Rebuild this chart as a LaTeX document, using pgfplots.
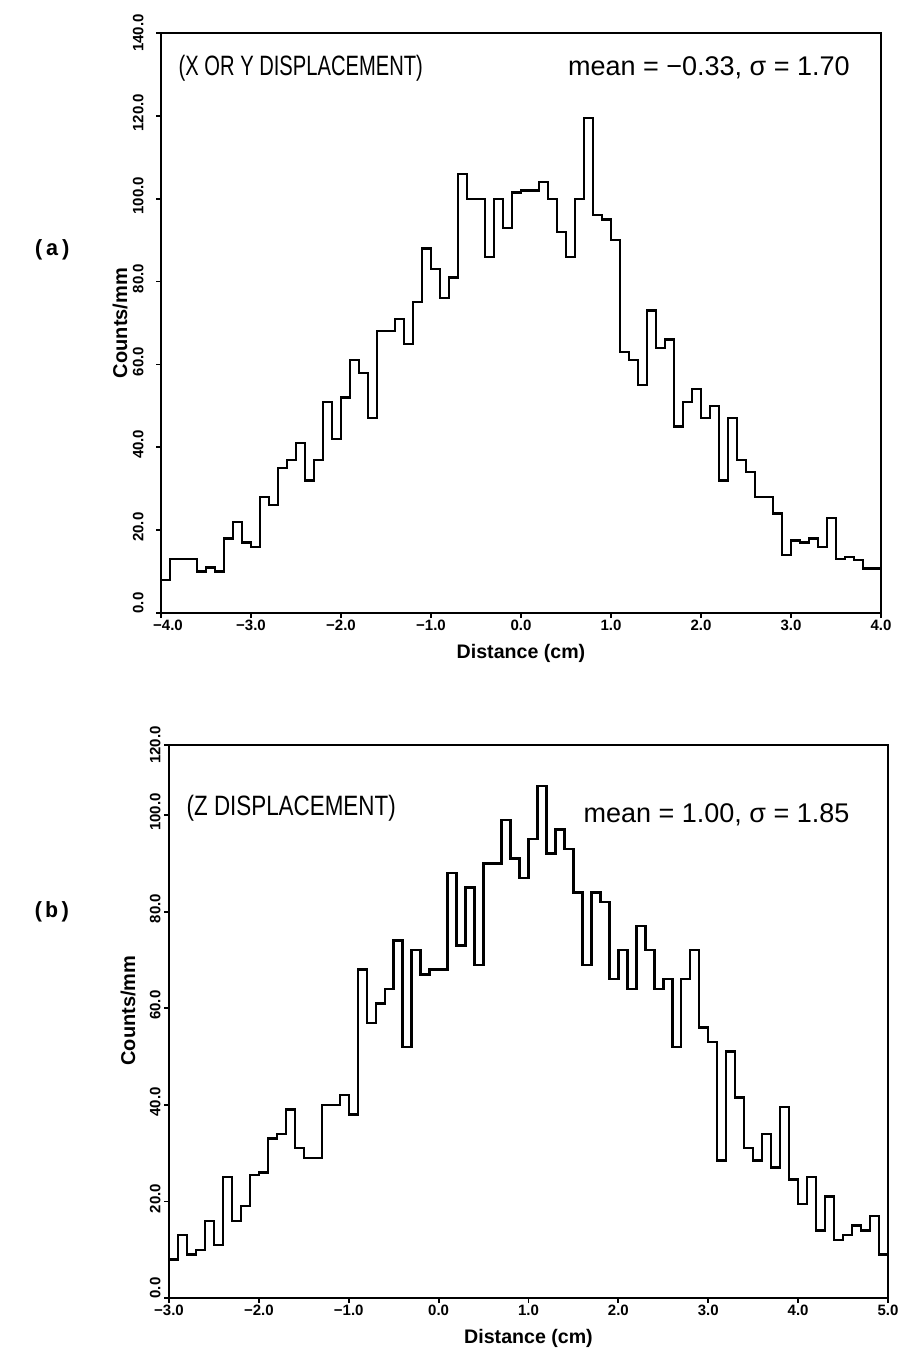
\documentclass[border=0pt]{standalone}
\usepackage{fontspec}
\setmainfont{Liberation Sans}
\newfontfamily\monofont{Liberation Mono}
\usepackage{pgfplots}
\usepackage{pgfplotstable}
\pgfplotsset{compat=1.18}

\pgfplotstableread{
x y
-4.0 8
-3.9 13
-3.8 13
-3.7 13
-3.6 10
-3.5 11
-3.4 10
-3.3 18
-3.2 22
-3.1 17
-3.0 16
-2.9 28
-2.8 26
-2.7 35
-2.6 37
-2.5 41
-2.4 32
-2.3 37
-2.2 51
-2.1 42
-2.0 52
-1.9 61
-1.8 58
-1.7 47
-1.6 68
-1.5 68
-1.4 71
-1.3 65
-1.2 75
-1.1 88
-1.0 83
-0.9 76
-0.8 81
-0.7 106
-0.6 100
-0.5 100
-0.4 86
-0.3 100
-0.2 93
-0.1 101.5
0.0 102
0.1 102
0.2 104
0.3 100
0.4 92
0.5 86
0.6 100
0.7 119.5
0.8 96
0.9 95
1.0 90
1.1 63
1.2 61
1.3 55
1.4 73
1.5 64
1.6 66
1.7 45
1.8 51
1.9 54
2.0 47
2.1 50
2.2 32
2.3 47
2.4 37
2.5 34
2.6 28
2.7 28
2.8 24
2.9 14
3.0 17.5
3.1 17
3.2 18
3.3 16
3.4 23
3.5 13
3.6 13.5
3.7 12.8
3.8 10.7
3.9 10.7
4.0 10.7
}\dataA

\pgfplotstableread{
x y
-3.0 8
-2.9 13
-2.8 9
-2.7 10
-2.6 16
-2.5 11
-2.4 25
-2.3 16
-2.2 19
-2.1 25.5
-2.0 26
-1.9 33
-1.8 34
-1.7 39
-1.6 31
-1.5 29
-1.4 29
-1.3 40
-1.2 40
-1.1 42
-1.0 38
-0.9 68
-0.8 57
-0.7 61
-0.6 64
-0.5 74
-0.4 52
-0.3 72
-0.2 67
-0.1 68
0.0 68
0.1 88
0.2 73
0.3 85
0.4 69
0.5 90
0.6 90
0.7 99
0.8 91
0.9 87
1.0 95
1.1 106
1.2 92
1.3 97
1.4 93
1.5 84
1.6 69
1.7 84
1.8 82
1.9 66
2.0 72
2.1 64
2.2 77
2.3 72
2.4 64
2.5 66
2.6 52
2.7 66
2.8 72
2.9 56
3.0 53
3.1 28.5
3.2 51
3.3 41.5
3.4 31
3.5 28.5
3.6 34
3.7 27
3.8 39.5
3.9 24.5
4.0 19.5
4.1 25
4.2 14
4.3 21
4.4 12
4.5 13
4.6 15
4.7 14
4.8 17
4.9 9
5.0 9
}\dataB

\pgfplotsset{
  histaxis/.style={
    scale only axis,
    axis line style={line width=1.3pt},
    tick align=outside,
    xtick pos=bottom,
    ytick pos=left,
    major tick length=2.5pt,
    tick style={line width=0.9pt, black},
    ymin=0,
    clip=false,
    xticklabel style={font=\fontsize{7.5}{8}\selectfont\bfseries, inner sep=1pt},
    yticklabel style={font=\fontsize{7.5}{8}\selectfont\bfseries, rotate=90, anchor=south, inner sep=0pt},
    xlabel={Distance (cm)},
    ylabel={Counts/mm},
    every axis x label/.style={at={(axis description cs:0.5,0)}, anchor=center, yshift=-20pt, font=\fontsize{9.8}{11}\selectfont\bfseries},
    every axis y label/.style={at={(axis description cs:0,0.5)}, anchor=center, xshift=-20.5pt, rotate=90, font=\fontsize{10}{11}\selectfont\bfseries},
  }
}

\begin{document}
\begin{tikzpicture}
\useasboundingbox (0,0) rectangle (453.5pt,-676pt);

\begin{axis}[histaxis,
  at={(80.5pt,-306.5pt)}, anchor=south west,
  width=360pt, height=290pt,
  xmin=-4, xmax=4, ymax=140,
  xtick={-4,-3,-2,-1,0,1,2,3,4},
  xticklabels={\hspace*{7pt}−4.0,−3.0,−2.0,−1.0,0.0,1.0,2.0,3.0,4.0\hspace*{0pt}},
  ytick={0,20,40,60,80,100,120,140},
  yticklabels={\hspace*{10pt}0.0,\hspace*{3pt}20.0,\hspace*{3pt}40.0,\hspace*{3pt}60.0,\hspace*{3pt}80.0,\hspace*{3pt}100.0,\hspace*{3pt}120.0,140.0},
  yticklabel shift=6pt,
]
\addplot[const plot mark left, no marks, black, line width=1.2pt] table {\dataA};
\node[anchor=west, inner sep=0pt] at (axis description cs:0.024,0.94)
  {\fontsize{14}{15}\selectfont\scalebox{0.72}[1]{(X OR Y DISPLACEMENT)}};
\node[anchor=east, inner sep=0pt] at (axis description cs:0.957,0.94)
  {\fontsize{13.5}{14}\selectfont mean = −0.33, σ = 1.70};
\node[inner sep=0pt] at (axis description cs:-0.151,0.626)
  {\monofont\bfseries\fontsize{11}{12}\selectfont (a)};
\end{axis}

\begin{axis}[histaxis,
  at={(84.5pt,-649pt)}, anchor=south west,
  width=359.5pt, height=276.5pt,
  xmin=-3, xmax=5, ymax=114.5,
  xtick={-3,-2,-1,0,1,2,3,4,5},
  xticklabels={−3.0,−2.0,−1.0,0.0,1.0,2.0,3.0,4.0,5.0},
  ytick={0,20,40,60,80,100,114.5},
  yticklabels={\hspace*{10pt}0.0,\hspace*{3pt}20.0,\hspace*{3pt}40.0,\hspace*{3pt}60.0,\hspace*{3pt}80.0,\hspace*{3pt}100.0,120.0},
  yticklabel shift=1.5pt,
  every axis y label/.append style={xshift=5.5pt},
]
\addplot[const plot mark left, no marks, black, line width=1.2pt] table {\dataB};
\node[anchor=west, inner sep=0pt] at (axis description cs:0.024,0.886)
  {\fontsize{14}{15}\selectfont\scalebox{0.8}[1]{(Z DISPLACEMENT)}};
\node[anchor=east, inner sep=0pt] at (axis description cs:0.947,0.873)
  {\fontsize{13.5}{14}\selectfont mean = 1.00, σ = 1.85};
\node[inner sep=0pt] at (axis description cs:-0.163,0.698)
  {\monofont\bfseries\fontsize{11}{12}\selectfont (b)};
\end{axis}
\end{tikzpicture}
\end{document}
